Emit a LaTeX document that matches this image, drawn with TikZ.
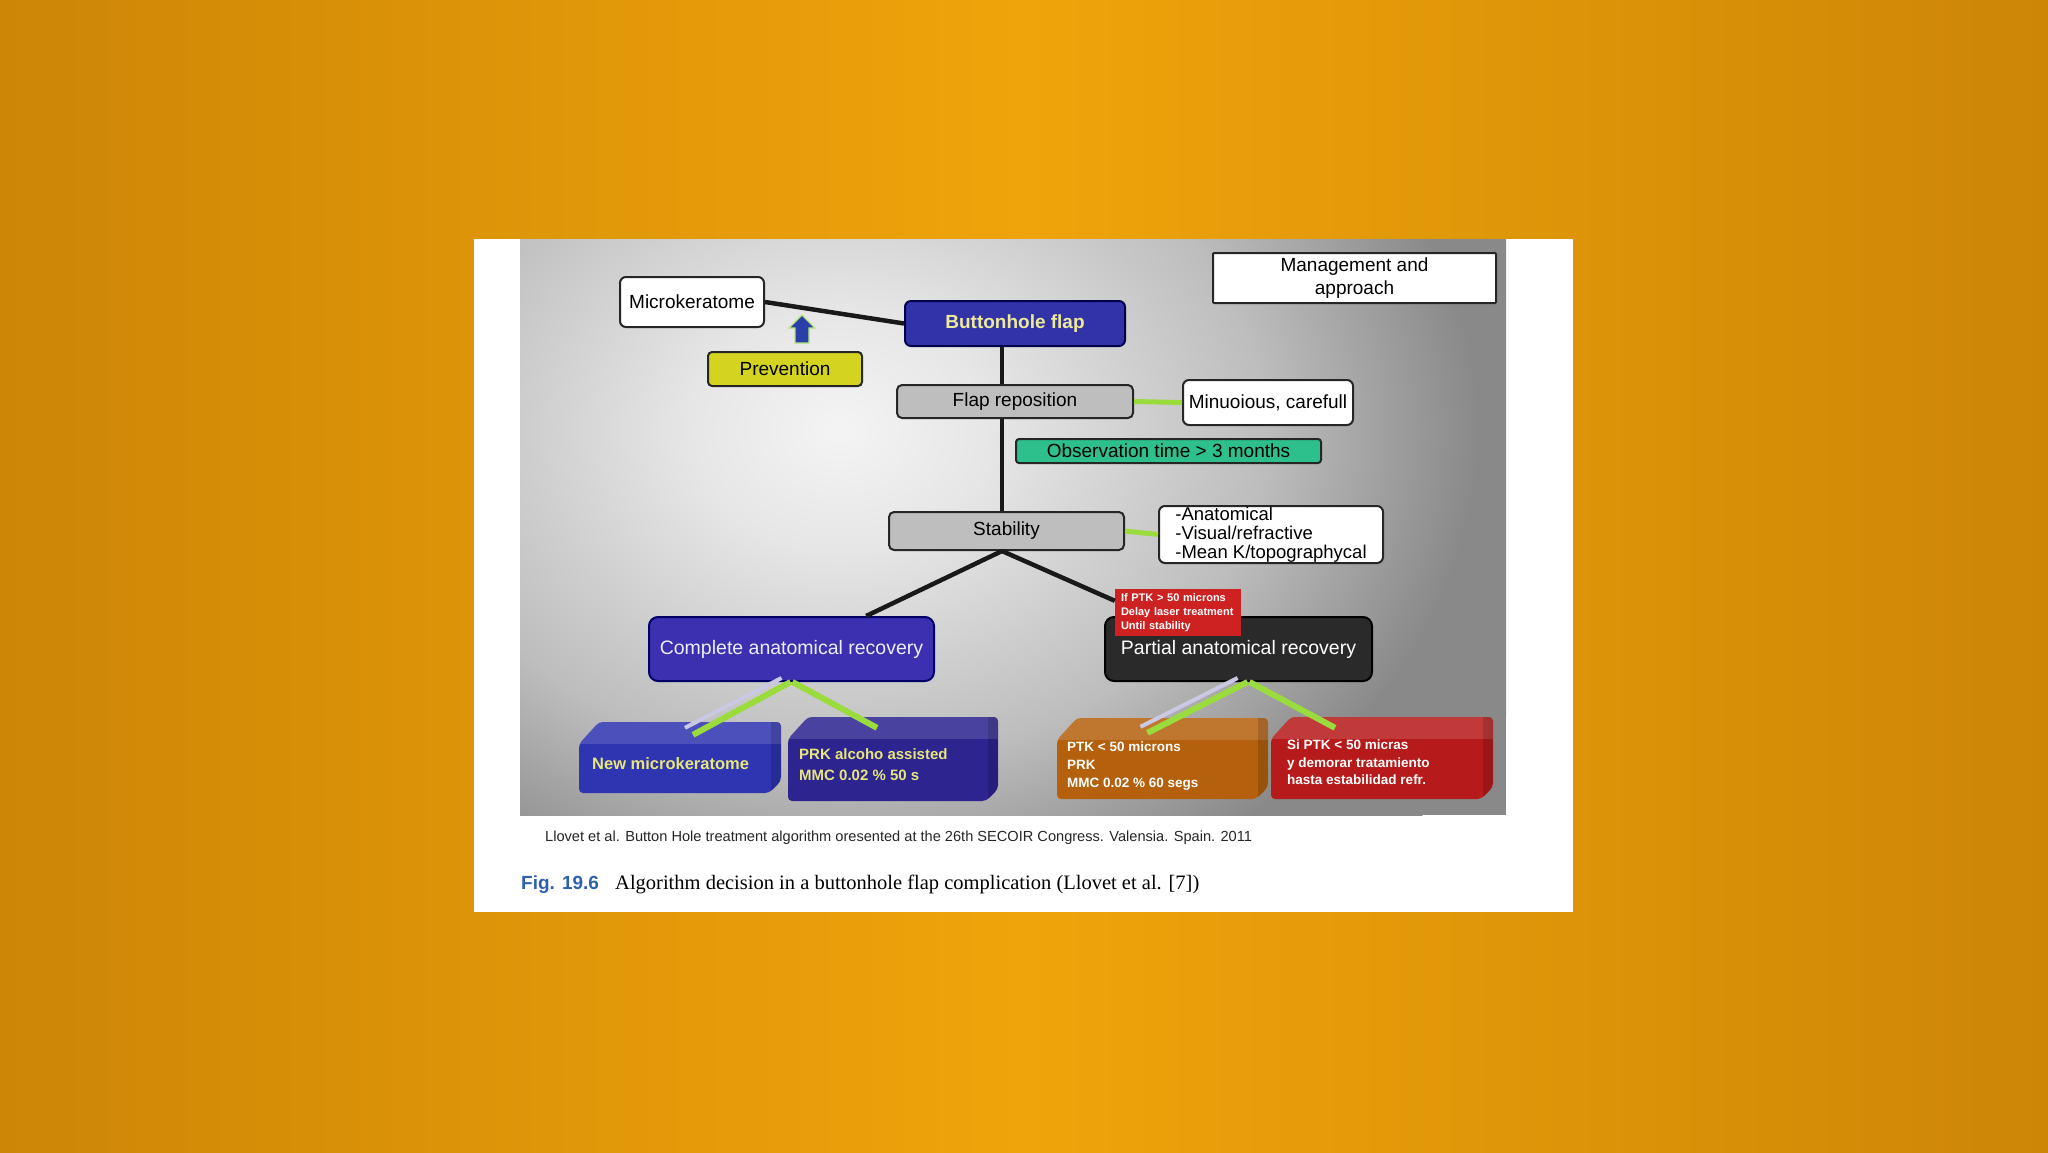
\documentclass[tikz,border=0pt]{standalone}
\usepackage{fontspec}
\setmainfont{Liberation Sans}
\newfontfamily\capserif{Liberation Serif}
\usetikzlibrary{calc}
\definecolor{bgin}{HTML}{EFA40B}
\definecolor{bgout}{HTML}{CD8606}
\definecolor{pA}{HTML}{F4F4F4}
\definecolor{pB}{HTML}{E6E6E6}
\definecolor{pC}{HTML}{BDBDBD}
\definecolor{pD}{HTML}{898989}
\definecolor{bhblue}{HTML}{3333A8}
\definecolor{bhtext}{HTML}{EDEB9A}
\definecolor{compblue}{HTML}{3B30B0}
\definecolor{partdark}{HTML}{2A2A2A}
\definecolor{boxgray}{HTML}{BEBEBE}
\definecolor{prevyel}{HTML}{D4D420}
\definecolor{obsgreen}{HTML}{2EC08C}
\definecolor{redlab}{HTML}{CE2121}
\definecolor{nmblue}{HTML}{2F34B0}
\definecolor{prkblue}{HTML}{2D2490}
\definecolor{ptkorange}{HTML}{B5600C}
\definecolor{sired}{HTML}{B71A1A}
\definecolor{blockyel}{HTML}{E6E67A}
\definecolor{lgreen}{HTML}{9ADB3E}
\definecolor{paleline}{HTML}{C9C9E3}
\definecolor{arrowblue}{HTML}{2B3FA8}
\definecolor{figblue}{HTML}{2F62AE}
\pgfdeclareradialshading{panelsh}{\pgfpoint{0bp}{0bp}}{color(0bp)=(pA); color(5bp)=(pB); color(14bp)=(pC); color(21bp)=(pD); color(50bp)=(pD)}
\newcommand\blockbg[5]{%
  \begin{scope}
    \fill[#5, rounded corners=4pt] (#1+20,#2) -- (#3,#2) -- (#3,#4-12) -- (#3-12,#4) -- (#1,#4) -- (#1,#2+22) -- cycle;
    \clip[rounded corners=4pt] (#1+20,#2) -- (#3,#2) -- (#3,#4-12) -- (#3-12,#4) -- (#1,#4) -- (#1,#2+22) -- cycle;
    \fill[white, opacity=.14] (#1,#2) rectangle (#3,#2+22);
    \fill[black, opacity=.15] (#3-10,#2) rectangle (#3,#4);
  \end{scope}}
\begin{document}
\begin{tikzpicture}[x=1pt,y=-1pt,
  bx/.style={draw=black!85, line width=2pt, rounded corners=6pt, align=center, inner sep=0pt, font=\fontsize{19}{21}\selectfont},
  blk/.style={line width=4.5pt, black!90},
  grn/.style={line width=6pt, lgreen},
  pale/.style={line width=4pt, paleline},
  btxt/.style={anchor=west, align=left, inner sep=0pt, font=\bfseries\fontsize{13.5}{17.5}\selectfont},
  area/.style={inner sep=0pt}
]
\useasboundingbox (0,0) rectangle (2048,1152);
% background
\shade[left color=bgout, right color=bgout, middle color=bgin] (0,0) rectangle (2048,1152);
% card
\fill[white] (474,239) rectangle (1573,912);
% panel
\fill[pD] (520,239) rectangle (1506,815);
\begin{scope}
  \clip (520,239) rectangle (1506,815);
  \shade[shading=panelsh] (840,430) ellipse (760 and 600);
\end{scope}

% nodes
\node[bx, fill=white, rounded corners=1pt, minimum width=283pt, minimum height=50pt] (mgmt) at (1354.5,278) {Management and\\[2pt]approach};
\node[bx, fill=white, minimum width=144pt, minimum height=50pt] (micro) at (692,302) {Microkeratome};
\node[bx, fill=bhblue, draw=black!70!blue, minimum width=220pt, minimum height=45pt, text=bhtext, font=\bfseries\fontsize{19}{21}\selectfont] (bh) at (1015,323.5) {Buttonhole flap};
\node[bx, fill=prevyel, rounded corners=4pt, minimum width=154pt, minimum height=34pt] (prev) at (785,369) {Prevention};
\node[bx, fill=boxgray, rounded corners=5pt, minimum width=236pt, minimum height=33pt] (fr) at (1015,401.5) {Flap reposition};
\node[bx, fill=white, minimum width=170pt, minimum height=45pt] (minu) at (1268,402.5) {Minuoious, carefull};
\node[bx, fill=obsgreen, rounded corners=3pt, minimum width=305pt, minimum height=24pt] (obs) at (1168.5,451) {Observation time > 3 months};
\node[bx, fill=boxgray, rounded corners=5pt, minimum width=235pt, minimum height=38pt] (stab) at (1006.5,531) {Stability};
\node[bx, fill=white, minimum width=224pt, minimum height=57pt, align=left, font=\fontsize{18.5}{19}\selectfont] (list) at (1271,534.5) {-Anatomical\\-Visual/refractive\\-Mean K/topographycal};

\coordinate (vx) at (1002,0);
% black connectors
\draw[blk] (micro.east) -- (bh.west);
\draw[blk] (bh.south -| vx) -- (fr.north -| vx);
\draw[blk] (fr.south -| vx) -- (stab.north -| vx);
\draw[grn, line width=5pt] (fr.east) -- (minu.west);
\draw[grn, line width=5pt] (stab.east) -- (list.west);

% recovery boxes
\node[bx, fill=compblue, draw=black!60!blue, rounded corners=9pt, minimum width=285pt, minimum height=64pt, text=white!93!blue, font=\fontsize{19.5}{21}\selectfont] (comp) at (791.5,649) {Complete anatomical recovery};
\node[bx, fill=partdark, draw=black, rounded corners=9pt, minimum width=267pt, minimum height=64pt, text=white, font=\fontsize{19.5}{21}\selectfont] (part) at (1238.5,649) {Partial anatomical recovery};
\node[fill=redlab, minimum width=126pt, minimum height=47pt, inner xsep=6pt, inner ysep=0pt, text width=114pt, align=left, text=white, font=\bfseries\fontsize{11}{14.3}\selectfont] (red) at (1178,612.5) {If PTK > 50 microns\\Delay laser treatment\\Until stability};

\draw[blk] (stab.south -| vx) -- ($(comp.north west)!0.76!(comp.north east)$);
\draw[blk] (stab.south -| vx) -- ($(red.north west)+(0,12)$);

% arrow
\filldraw[draw=lgreen!70!white, line width=1.2pt, fill=arrowblue] (802,315) -- (815,328) -- (809,328) -- (809,343) -- (795,343) -- (795,328) -- (789,328) -- cycle;

% bottom blocks
\blockbg{579}{722}{781}{793}{nmblue}
\blockbg{788}{717}{998}{801}{prkblue}
\blockbg{1057}{718}{1268}{799}{ptkorange}
\blockbg{1271}{717}{1493}{799}{sired}
\node[area, minimum width=202pt, minimum height=71pt] (nm) at (680,757.5) {};
\node[area, minimum width=210pt, minimum height=84pt] (prk) at (893,759) {};
\node[area, minimum width=211pt, minimum height=81pt] (ptk) at (1162.5,758.5) {};
\node[area, minimum width=222pt, minimum height=82pt] (si) at (1382,758) {};
\node[btxt, text=blockyel, font=\bfseries\fontsize{16.5}{20}\selectfont] (nmt) at (592,764) {New microkeratome};
\node[btxt, text=blockyel, font=\bfseries\fontsize{15}{21}\selectfont] (prkt) at (799,764.5) {PRK alcoho assisted\\MMC 0.02 \% 50 s};
\node[btxt, text=white, font=\bfseries\fontsize{13.5}{18}\selectfont] (ptkt) at (1067,766) {PTK < 50 microns\\PRK\\MMC 0.02 \% 60 segs};
\node[btxt, text=white] (sit) at (1287,762.5) {Si PTK < 50 micras\\y demorar tratamiento\\hasta estabilidad refr.};

% green connectors
\draw[pale] ($(comp.south)+(-10,-4)$) -- ($(nm.north)+(5,6)$);
\draw[grn] ($(comp.south)+(-1,0)$) -- ($(nm.north)+(13,13)$);
\draw[grn] ($(comp.south)+(1,0)$) -- ($(prk.north)+(-16,11)$);
\draw[pale] ($(part.south)+(-1,-4)$) -- ($(ptk.north)+(-22,9)$);
\draw[grn] ($(part.south)+(9,0)$) -- ($(ptk.north)+(-15,15)$);
\draw[grn] ($(part.south)+(11,0)$) -- ($(si.north)+(-47,11)$);

% captions
\node[anchor=west, inner sep=0pt, text=black!85, font=\fontsize{14.6}{16}\selectfont] (cred) at (545,838) {Llovet et al. Button Hole treatment algorithm oresented at the 26th SECOIR Congress. Valensia. Spain. 2011};
\node[anchor=base west, inner sep=0pt, text=figblue, font=\bfseries\fontsize{19}{22}\selectfont] (figlab) at (521,889) {Fig. 19.6};
\node[anchor=base west, inner sep=0pt, font=\capserif\fontsize{20.5}{22}\selectfont] (cap) at (615,889) {Algorithm decision in a buttonhole flap complication (Llovet et al. [7])};
\end{tikzpicture}
\end{document}
